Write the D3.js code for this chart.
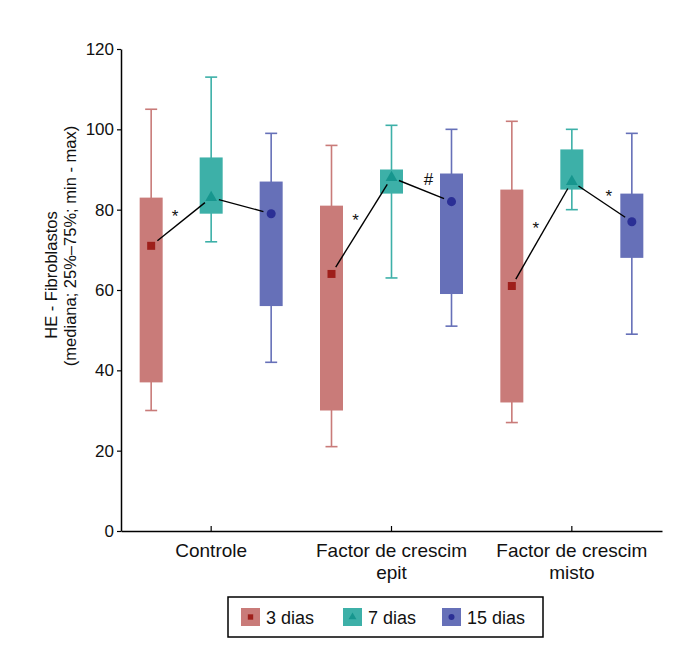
<!DOCTYPE html>
<html>
<head>
    <meta charset="UTF-8">
    <title>HE - Fibroblastos</title>
    <style>
        body {
            margin: 0;
            padding: 0;
            background: #FFFFFF;
        }

        text {
            font-family: "Liberation Sans", Arial, sans-serif;
            fill: #111;
        }
    </style>
</head>
<body>

<script src="https://cdn.jsdelivr.net/npm/d3@7"></script>

<script>
    // grupos e dias
    const groups = ["Controle", "Factor de crescim epit", "Factor de crescim misto"];
    const groupLines = [["Controle"], ["Factor de crescim", "epit"], ["Factor de crescim", "misto"]];
    const days = ["3 dias", "7 dias", "15 dias"];

    // valores por dia, na ordem dos grupos
    const minimo   = [[30, 21, 27], [72, 63, 80], [42, 51, 49]];
    const q1       = [[37, 30, 32], [79, 84, 85], [56, 59, 68]];
    const mediana  = [[71, 64, 61], [83, 88, 87], [79, 82, 77]];
    const q3       = [[83, 81, 85], [93, 90, 95], [87, 89, 84]];
    const maximo   = [[105, 96, 102], [113, 101, 100], [99, 100, 99]];

    const yTicks = [0, 20, 40, 60, 80, 100, 120];

    // anotações entre medianas (grupo, dia de, dia para, rótulo)
    const notes = [
        {group: 0, from: 0, to: 1, label: "*"},
        {group: 1, from: 0, to: 1, label: "*"},
        {group: 1, from: 1, to: 2, label: "#"},
        {group: 2, from: 0, to: 1, label: "*"},
        {group: 2, from: 1, to: 2, label: "*"}
    ];

    const boxColors = ["#C97B79", "#3DB0A8", "#6670B8"];
    const markColors = ["#9E1F1B", "#17968E", "#2B2F95"];
    const markShapes = [d3.symbolSquare, d3.symbolTriangle, d3.symbolCircle];
    const markSizes = [64, 60, 64];

    const margin = {top: 49, right: 38, bottom: 125, left: 121},
        width = 700 - margin.left - margin.right,
        height = 656 - margin.top - margin.bottom;

    const svg = d3.select("body")
        .append("svg")
        .attr("width", 700)
        .attr("height", 656)
        .append("g")
        .attr("transform", "translate(" + margin.left + "," + margin.top + ")");

    const x = d3.scaleBand()
        .domain(groups)
        .range([0, width]);

    const xDay = d3.scalePoint()
        .domain(days)
        .range([-60, 60]);

    const y = d3.scaleLinear()
        .domain([0, 120])
        .range([height, 0]);

    // eixos
    const yAxis = svg.append("g")
        .call(d3.axisLeft(y).tickValues(yTicks).tickSize(4).tickPadding(3).tickSizeOuter(0));
    yAxis.select(".domain").attr("stroke", "#000").attr("stroke-width", 1.5);
    yAxis.selectAll(".tick line").attr("stroke", "#000").attr("stroke-width", 1.2);
    yAxis.selectAll("text")
        .style("font-size", "17px")
        .style("font-family", "'Liberation Sans', Arial, sans-serif")
        .attr("fill", "#111");

    const xAxis = svg.append("g")
        .attr("transform", "translate(0," + height + ")")
        .call(d3.axisBottom(x).tickSize(-5).tickSizeOuter(0).tickFormat(""));
    xAxis.select(".domain").attr("stroke", "#000").attr("stroke-width", 1.5);
    xAxis.selectAll(".tick line").attr("stroke", "#000").attr("stroke-width", 1.2);

    xAxis.selectAll(".tick")
        .append("text")
        .attr("text-anchor", "middle")
        .style("font-size", "19px")
        .attr("fill", "#111")
        .each(function (d, i) {
            const t = d3.select(this);
            groupLines[i].forEach(function (line, k) {
                t.append("tspan")
                    .attr("x", 0)
                    .attr("y", 26 + k * 22)
                    .text(line);
            });
        });

    // rótulo do eixo y
    const yLabel = svg.append("text")
        .attr("transform", "rotate(-90)")
        .attr("text-anchor", "middle")
        .style("font-size", "16.5px");
    yLabel.append("tspan")
        .attr("x", -(275 - margin.top))
        .attr("y", 57 - margin.left)
        .text("HE - Fibroblastos");
    yLabel.append("tspan")
        .attr("x", -(246 - margin.top))
        .attr("y", 76 - margin.left)
        .text("(mediana; 25%–75%; min - max)");

    // caixas
    const boxW = 23, capW = 12;
    const boxData = [];
    groups.forEach(function (g, gi) {
        days.forEach(function (dia, di) {
            boxData.push({
                group: g, day: dia, di: di,
                min: minimo[di][gi], q1: q1[di][gi], med: mediana[di][gi],
                q3: q3[di][gi], max: maximo[di][gi]
            });
        });
    });

    const cx = function (d) { return x(d.group) + x.bandwidth() / 2 + xDay(d.day); };

    const box = svg.selectAll(".box")
        .data(boxData)
        .join("g")
        .attr("class", "box");

    box.append("line")
        .attr("x1", cx).attr("x2", cx)
        .attr("y1", function (d) { return y(d.min); })
        .attr("y2", function (d) { return y(d.max); })
        .attr("stroke", function (d) { return boxColors[d.di]; })
        .attr("stroke-width", 1.6);

    box.selectAll(".cap")
        .data(function (d) { return [{d: d, v: d.min}, {d: d, v: d.max}]; })
        .join("line")
        .attr("x1", function (c) { return cx(c.d) - capW / 2; })
        .attr("x2", function (c) { return cx(c.d) + capW / 2; })
        .attr("y1", function (c) { return y(c.v); })
        .attr("y2", function (c) { return y(c.v); })
        .attr("stroke", function (c) { return boxColors[c.d.di]; })
        .attr("stroke-width", 1.6);

    box.append("rect")
        .attr("x", function (d) { return cx(d) - boxW / 2; })
        .attr("width", boxW)
        .attr("y", function (d) { return y(d.q3); })
        .attr("height", function (d) { return y(d.q1) - y(d.q3); })
        .attr("fill", function (d) { return boxColors[d.di]; });

    // linhas entre medianas
    const medPoint = function (gi, di) {
        return [x(groups[gi]) + x.bandwidth() / 2 + xDay(days[di]), y(mediana[di][gi])];
    };

    notes.concat([{group: 0, from: 1, to: 2, label: ""}]).forEach(function (n) {
        const a = medPoint(n.group, n.from), b = medPoint(n.group, n.to);
        const dx = b[0] - a[0], dy = b[1] - a[1];
        const len = Math.sqrt(dx * dx + dy * dy);
        const ux = dx / len, uy = dy / len;
        const gap = 8;
        svg.append("line")
            .attr("x1", a[0] + ux * gap).attr("y1", a[1] + uy * gap)
            .attr("x2", b[0] - ux * gap).attr("y2", b[1] - uy * gap)
            .attr("stroke", "#000")
            .attr("stroke-width", 1.4);

        if (n.label) {
            const mx = (a[0] + b[0]) / 2, my = (a[1] + b[1]) / 2;
            const off = dy < 0 ? -6 : 7;
            svg.append("text")
                .attr("x", mx + off)
                .attr("y", my - 2 + (n.label === "#" ? -3 : 2))
                .attr("text-anchor", "middle")
                .style("font-size", n.label === "#" ? "17px" : "17px")
                .text(n.label);
        }
    });

    // marcadores da mediana
    svg.selectAll(".med")
        .data(boxData)
        .join("path")
        .attr("class", "med")
        .attr("transform", function (d) { return "translate(" + cx(d) + "," + y(d.med) + ")"; })
        .attr("d", function (d) { return d3.symbol().type(markShapes[d.di]).size(markSizes[d.di])(); })
        .attr("fill", function (d) { return markColors[d.di]; });

    // legenda
    const legend = svg.append("g")
        .attr("transform", "translate(" + (228 - margin.left) + "," + (597 - margin.top) + ")");

    legend.append("rect")
        .attr("width", 315)
        .attr("height", 40)
        .attr("fill", "none")
        .attr("stroke", "#000")
        .attr("stroke-width", 1.5);

    const legendX = [13, 115, 214];

    const item = legend.selectAll(".item")
        .data(days)
        .join("g")
        .attr("class", "item")
        .attr("transform", function (d, i) { return "translate(" + legendX[i] + ",11)"; });

    item.append("rect")
        .attr("width", 19)
        .attr("height", 18)
        .attr("fill", function (d, i) { return boxColors[i]; });

    item.append("path")
        .attr("transform", "translate(9.5,9)")
        .attr("d", function (d, i) { return d3.symbol().type(markShapes[i]).size(markSizes[i] * 0.45)(); })
        .attr("fill", function (d, i) { return markColors[i]; });

    item.append("text")
        .attr("x", 25)
        .attr("y", 16)
        .style("font-size", "18px")
        .text(function (d) { return d; });
</script>
</body>
</html>
